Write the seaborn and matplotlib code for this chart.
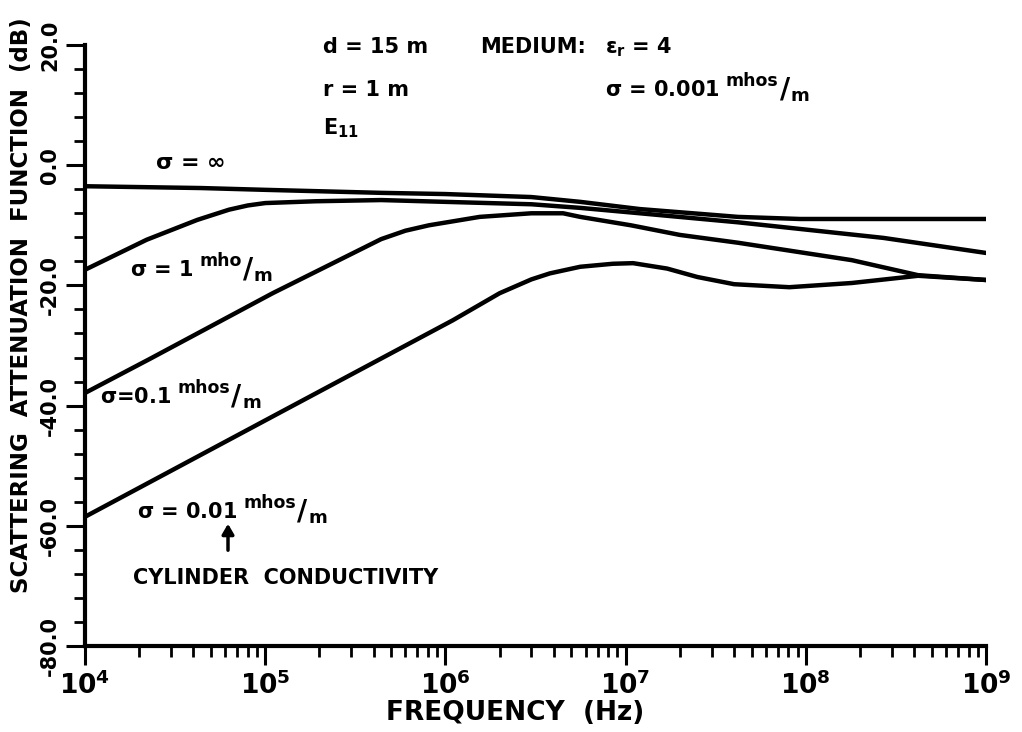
import numpy as np
import pandas as pd
import matplotlib
matplotlib.use("Agg")
import matplotlib.pyplot as plt
from matplotlib.patches import FancyArrowPatch
from matplotlib.ticker import FixedLocator, LogLocator, NullFormatter
import seaborn as sns

# Scattering attenuation of a buried cylinder vs. frequency, one curve per
# cylinder conductivity (values in dB).
freq_inf = [1e4, 4.4e4, 1e5, 4.4e5, 1e6, 3e6, 5.6e6, 1.2e7, 2.6e7, 4.2e7, 9.3e7, 1e9]
db_inf = [-3.5, -3.8, -4.1, -4.6, -4.8, -5.3, -6.1, -7.3, -8.1, -8.6, -8.95, -8.95]

freq_1 = [1e4, 2.2e4, 4.2e4, 6.3e4, 8e4, 1e5, 1.9e5, 4.4e5, 1e6, 3e6, 5.6e6, 1.2e7, 4.2e7, 2.7e8, 1e9]
db_1 = [-17.4, -12.4, -9.1, -7.4, -6.7, -6.3, -6.0, -5.8, -6.1, -6.5, -7.1, -8.0, -9.5, -12.1, -14.6]

freq_01 = [1e4, 2.3e4, 1.1e5, 4.4e5, 6e5, 8.1e5, 1.55e6, 3e6, 4.5e6, 5.6e6, 1.07e7, 2e7, 4.2e7, 1.8e8, 4.2e8, 1e9]
db_01 = [-37.9, -32.2, -21.3, -12.3, -10.9, -10.0, -8.6, -8.0, -8.0, -8.6, -10.0, -11.6, -12.9, -15.8, -18.3, -19.1]

freq_001 = [1e4, 1.2e5, 1.1e6, 2e6, 3e6, 3.8e6, 5.6e6, 8.5e6, 1.1e7, 1.7e7, 2.5e7, 4e7, 8.1e7, 1.8e8, 4.2e8, 1e9]
db_001 = [-58.5, -41.2, -25.8, -21.3, -19.0, -18.0, -16.9, -16.4, -16.3, -17.2, -18.6, -19.8, -20.3, -19.6, -18.4, -19.1]

y_ticks = [20, 0, -20, -40, -60, -80]
y_tick_labels = ["20.0", "0.0", "-20.0", "-40.0", "-60.0", "-80.0"]
x_ticks = [1e4, 1e5, 1e6, 1e7, 1e8, 1e9]
x_tick_labels = [r"$10^{4}$", r"$10^{5}$", r"$10^{6}$", r"$10^{7}$", r"$10^{8}$", r"$10^{9}$"]

curves = pd.concat([
    pd.DataFrame({"freq": freq_inf, "db": db_inf, "curve": "inf"}),
    pd.DataFrame({"freq": freq_1, "db": db_1, "curve": "1"}),
    pd.DataFrame({"freq": freq_01, "db": db_01, "curve": "0.1"}),
    pd.DataFrame({"freq": freq_001, "db": db_001, "curve": "0.01"}),
])

sns.set_style("ticks")
plt.rcParams["font.family"] = ["DejaVu Sans"]
plt.rcParams["font.weight"] = "bold"
plt.rcParams["mathtext.default"] = "bf"
for key in ("text.color", "axes.labelcolor", "xtick.color", "ytick.color", "axes.edgecolor"):
    plt.rcParams[key] = "black"

W, H = 1022, 732
fig = plt.figure(figsize=(W / 100, H / 100), dpi=100)
ax = fig.add_axes([85 / W, 1 - 646 / H, (986 - 85) / W, (646 - 45) / H])

for name, grp in curves.groupby("curve", sort=False):
    sns.lineplot(data=grp, x="freq", y="db", ax=ax, color="black", lw=3.2,
                 estimator=None, sort=False, legend=False,
                 solid_joinstyle="round", solid_capstyle="round")

ax.set_xscale("log")
ax.set_xlim(1e4, 1e9)
ax.set_ylim(-80, 20)
ax.set_xlabel("")
ax.set_ylabel("")

ax.xaxis.set_major_locator(FixedLocator(x_ticks))
ax.set_xticklabels(x_tick_labels, fontsize=19)
ax.xaxis.set_minor_locator(LogLocator(base=10, subs=np.arange(2, 10)))
ax.xaxis.set_minor_formatter(NullFormatter())

ax.yaxis.set_major_locator(FixedLocator(y_ticks))
ax.set_yticklabels(y_tick_labels, fontsize=15, rotation=90, va="center")
ax.yaxis.set_minor_locator(FixedLocator(np.arange(-80, 21, 4)))

ax.tick_params(axis="both", which="major", length=14, width=2.2, pad=4)
ax.tick_params(axis="both", which="minor", length=8, width=2.0)
for s in ("top", "right"):
    ax.spines[s].set_visible(False)
for s in ("left", "bottom"):
    ax.spines[s].set_linewidth(3)

# axis titles
fig.text(22 / W, 1 - 305 / H, "SCATTERING  ATTENUATION  FUNCTION  (dB)", rotation=90,
         ha="center", va="center", fontsize=16.5)
fig.text(515 / W, 1 - 713 / H, "FREQUENCY  (Hz)", ha="center", va="center", fontsize=19)

renderer = fig.canvas.get_renderer()


def label(px, py, s, size=15):
    return fig.text(px / W, 1 - py / H, s, ha="left", va="center", fontsize=size)


def unit_label(px, py, main, unit, size=15):
    """Text followed by a stacked 'unit/m' fraction."""
    t = label(px, py, main, size)
    x = t.get_window_extent(renderer).x1 + 6
    u = fig.text(x / W, 1 - (py - 9) / H, unit, ha="left", va="center", fontsize=12.5)
    x = u.get_window_extent(renderer).x1 + 1
    s = fig.text(x / W, 1 - (py - 1) / H, "/", ha="left", va="center", fontsize=20)
    x = s.get_window_extent(renderer).x1 + 1
    fig.text(x / W, 1 - (py + 6) / H, "m", ha="left", va="center", fontsize=13)


# parameter block
label(323, 47, "d = 15 m")
label(323, 90, "r = 1 m")
label(323, 128, r"E$_{11}$")
label(480, 47, "MEDIUM:")
label(605, 47, r"$\epsilon_r$ = 4")
unit_label(605, 90, r"$\sigma$ = 0.001", "mhos")

# curve labels
label(155, 163, r"$\sigma$ = $\infty$", 16)
unit_label(130, 270, r"$\sigma$ = 1", "mho")
unit_label(100, 397, r"$\sigma$=0.1", "mhos")
unit_label(137, 512, r"$\sigma$ = 0.01", "mhos")
label(133, 578, "CYLINDER  CONDUCTIVITY")

fig.patches.append(FancyArrowPatch(
    (228 / W, 1 - 553 / H), (228 / W, 1 - 521 / H), transform=fig.transFigure,
    arrowstyle="-|>,head_length=6,head_width=3.5", color="black", lw=2.5))

fig.savefig("out.png", dpi=100, facecolor="white")
